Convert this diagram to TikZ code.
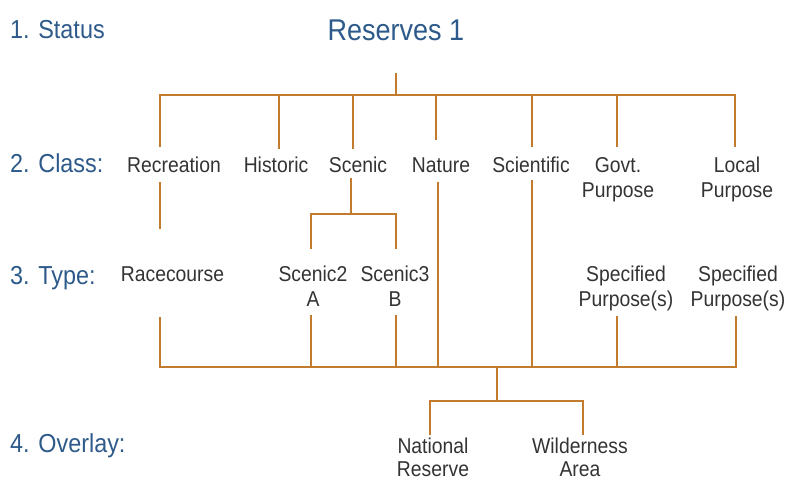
\documentclass[tikz,border=0pt]{standalone}
\usepackage{fontspec}
\setmainfont{Liberation Sans}[FakeStretch=0.9]
\definecolor{lbl}{HTML}{2D5A8A}
\definecolor{txt}{HTML}{333333}
\definecolor{ln}{HTML}{C27A2E}
\begin{document}
\begin{tikzpicture}[x=1pt,y=-1pt,
  head/.style={text=lbl,font=\fontsize{26}{30}\selectfont,anchor=base west,inner sep=0},
  title/.style={text=lbl,font=\fontsize{30}{34}\selectfont,anchor=base,inner sep=0},
  item/.style={text=txt,font=\fontsize{21.5}{25}\selectfont,align=center,anchor=base,inner sep=0},
  tight/.style={font=\fontsize{21.5}{23}\selectfont},
  conn/.style={draw=ln,line width=2pt}]
\useasboundingbox (0,0) rectangle (785,480);
% left headings
\node[head] (h1) at (10,38.5) {1. Status};
\node[head] (h2) at (10,172.5) {2. Class:};
\node[head] (h3) at (10,284.5) {3. Type:};
\node[head] (h4) at (10,452.5) {4. Overlay:};
% status
\node[title] (res) at (396,40.5) {Reserves 1};
% class (multi-line nodes are placed by the baseline of their last line)
\node[item] (rec) at (174,172) {Recreation};
\node[item] (his) at (276,172) {Historic};
\node[item] (sce) at (358,172) {Scenic};
\node[item] (nat) at (441,172) {Nature};
\node[item] (sci) at (531,172) {Scientific};
\node[item] (gov) at (618,197) {Govt.\\Purpose};
\node[item] (loc) at (737,197) {Local\\Purpose};
% type
\node[item] (race) at (172.5,281) {Racecourse};
\node[item] (sc2) at (313,306.5) {Scenic2\\A};
\node[item] (sc3) at (395,306.5) {Scenic3\\B};
\node[item] (sp1) at (626,306.5) {Specified\\Purpose(s)};
\node[item] (sp2) at (738,306.5) {Specified\\Purpose(s)};
% overlay
\node[item,tight] (natr) at (433,476) {National\\Reserve};
\node[item,tight] (wild) at (580,476) {Wilderness\\Area};
% junction coordinates
\coordinate (t0) at (396,73);
\coordinate (t1) at (396,95);
\coordinate (s0) at (351,178);
\coordinate (s1) at (351,214);
\coordinate (b0) at (497,367);
\coordinate (b1) at (497,401);
% status to class
\draw[conn] (t0) -- (t1);
\draw[conn] (160,147) -- (160,95) -- (735,95) -- (735,147);
\draw[conn] (279,95) -- (279,149);
\draw[conn] (353,95) -- (353,149);
\draw[conn] (436,95) -- (436,140);
\draw[conn] (532,95) -- (532,147);
\draw[conn] (617,95) -- (617,147);
% class to type
\draw[conn] (160,182) -- (160,229);
\draw[conn] (s0) -- (s1);
\draw[conn] (311,249) -- (311,214) -- (396,214) -- (396,249);
% to bottom bar
\draw[conn] (160,317) -- (160,367) -- (736,367) -- (736,316);
\draw[conn] (311,315) -- (311,367);
\draw[conn] (396,315) -- (396,367);
\draw[conn] (438,182) -- (438,367);
\draw[conn] (532,180) -- (532,367);
\draw[conn] (617,316) -- (617,367);
% overlay
\draw[conn] (b0) -- (b1);
\draw[conn] (430,435) -- (430,401) -- (583,401) -- (583,435);
\end{tikzpicture}
\end{document}
